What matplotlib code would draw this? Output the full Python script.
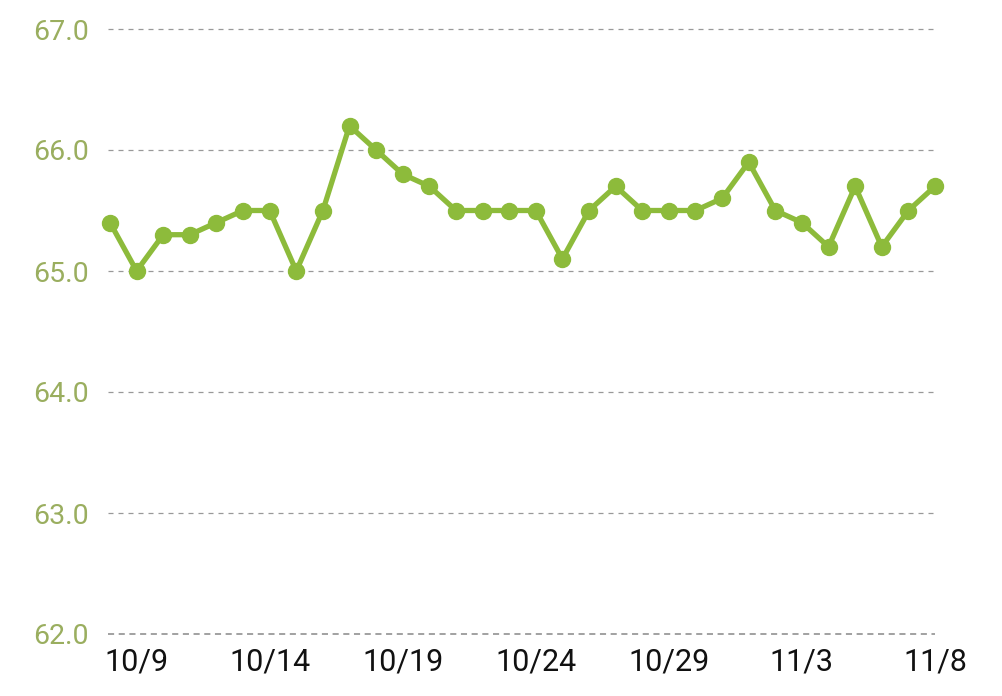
import matplotlib
matplotlib.use("Agg")
import matplotlib.pyplot as plt

dates = ["10/8", "10/9", "10/10", "10/11", "10/12", "10/13", "10/14", "10/15",
         "10/16", "10/17", "10/18", "10/19", "10/20", "10/21", "10/22", "10/23",
         "10/24", "10/25", "10/26", "10/27", "10/28", "10/29", "10/30", "10/31",
         "11/1", "11/2", "11/3", "11/4", "11/5", "11/6", "11/7", "11/8"]
values = [65.4, 65.0, 65.3, 65.3, 65.4, 65.5, 65.5, 65.0,
          65.5, 66.2, 66.0, 65.8, 65.7, 65.5, 65.5, 65.5,
          65.5, 65.1, 65.5, 65.7, 65.5, 65.5, 65.5, 65.6,
          65.9, 65.5, 65.4, 65.2, 65.7, 65.2, 65.5, 65.7]
shown_labels = ["10/9", "10/14", "10/19", "10/24", "10/29", "11/3", "11/8"]
y_ticks = [62.0, 63.0, 64.0, 65.0, 66.0, 67.0]

plt.rcParams['font.family'] = ['Roboto', 'DejaVu Sans']

fig = plt.figure(figsize=(10.02, 6.96), dpi=100)
ax = fig.add_axes([108/1002, 1 - 634/696, (935 - 108)/1002, (634 - 29)/696])

x = list(range(len(dates)))
ax.plot(x, values, color="#8dbb3b", linewidth=3.8, marker="o", markersize=11.5,
        clip_on=False, zorder=3)

ax.set_ylim(62.0, 67.0)
ax.set_xlim(-0.075, 30.78)
ax.set_yticks(y_ticks)
ax.set_yticklabels([f"{v:.1f}" for v in y_ticks], color="#9aae5f", fontsize=20.5)
tick_pos = [dates.index(d) for d in shown_labels]
ax.set_xticks(tick_pos)
ax.set_xticklabels(shown_labels, color="#111111", fontsize=22)

ax.tick_params(axis="both", length=0)
ax.tick_params(axis="y", pad=14)
ax.tick_params(axis="x", pad=10)
for s in ax.spines.values():
    s.set_visible(False)
for v in y_ticks:
    lw = 1.1 if v == y_ticks[0] else 0.9
    col = "#888888" if v == y_ticks[0] else "#999999"
    ax.axhline(v, linestyle=(0, (4, 3)) if v == y_ticks[0] else (0, (4, 4)),
               color=col, linewidth=lw, clip_on=False, zorder=1)

fig.savefig("out.png", dpi=100, facecolor="white")
